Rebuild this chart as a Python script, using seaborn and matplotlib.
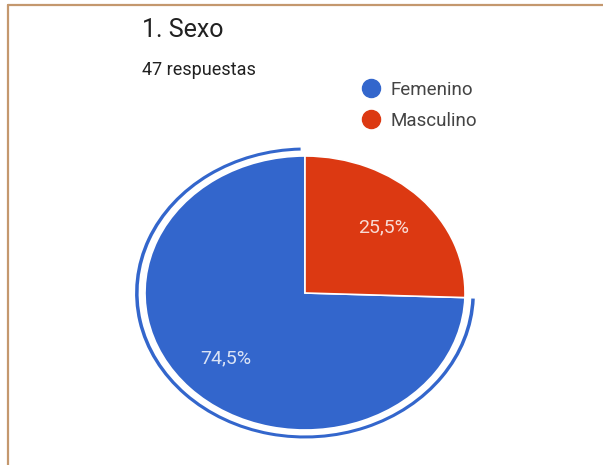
import matplotlib
matplotlib.use("Agg")
import matplotlib.pyplot as plt
from matplotlib.patches import Wedge
from matplotlib.lines import Line2D
import seaborn as sns

# Survey answers for question 1
title = "1. Sexo"
total_label = "47 respuestas"
categories = ["Femenino", "Masculino"]
responses = [35, 12]
colors = ["#3366CC", "#DC3912"]

sns.set_theme(style="white")
plt.rcParams["font.family"] = ["Roboto", "DejaVu Sans"]

W, H = 603, 465
fig = plt.figure(figsize=(W / 100, H / 100), dpi=100)
fig.patch.set_facecolor("white")

# Pie axes placed in pixel terms (centre, horizontal and vertical radius)
cx, cy = 305, 293
rx, ry = 160, 137
lim = 1.12
ax = fig.add_axes([(cx - lim * rx) / W, (H - cy - lim * ry) / H,
                   2 * lim * rx / W, 2 * lim * ry / H])


def pct(p):
    return f"{p:.1f}%".replace(".", ",")


wedges, texts, autotexts = ax.pie(
    responses, colors=colors, startangle=90, counterclock=True,
    autopct=pct, pctdistance=0.685,
    wedgeprops=dict(edgecolor="white", linewidth=1.2),
    textprops=dict(color="white", fontsize=14),
)
for t in autotexts:
    t.set_alpha(0.82)
ax.set_aspect("auto")
ax.set_xlim(-lim, lim)
ax.set_ylim(-lim, lim)
ax.axis("off")

# Highlight ring around the selected slice
w = wedges[0]
ring = Wedge((0, 0), 1.062, w.theta1 + 1.5, w.theta2 - 0.3, width=0.022,
             facecolor=colors[0], edgecolor="none", clip_on=False)
ax.add_patch(ring)

# Titles
fig.text(142 / W, 1 - 37 / H, title, fontsize=18, color="#212121",
         va="baseline", ha="left")
fig.text(142 / W, 1 - 75 / H, total_label, fontsize=13, color="#212121",
         va="baseline", ha="left")

# Legend
handles = [Line2D([], [], marker="o", linestyle="none", markersize=13,
                  markerfacecolor=c, markeredgecolor=c) for c in colors]
fig.legend(handles, categories, loc="upper left",
           bbox_to_anchor=(362 / W, 1 - 81 / H), frameon=False,
           fontsize=13.5, handletextpad=0.5, labelspacing=0.68,
           borderaxespad=0, borderpad=0, handlelength=1.0,
           labelcolor="#444444")

# Frame lines along top and left edges
frame_color = "#C4986E"
fig.add_artist(Line2D([8 / W, 1], [1 - 5 / H, 1 - 5 / H], color=frame_color,
                      lw=1.6, transform=fig.transFigure))
fig.add_artist(Line2D([8 / W, 8 / W], [0, 1 - 5 / H], color=frame_color,
                      lw=1.6, transform=fig.transFigure))

fig.savefig("out.png", dpi=100, facecolor="white")
